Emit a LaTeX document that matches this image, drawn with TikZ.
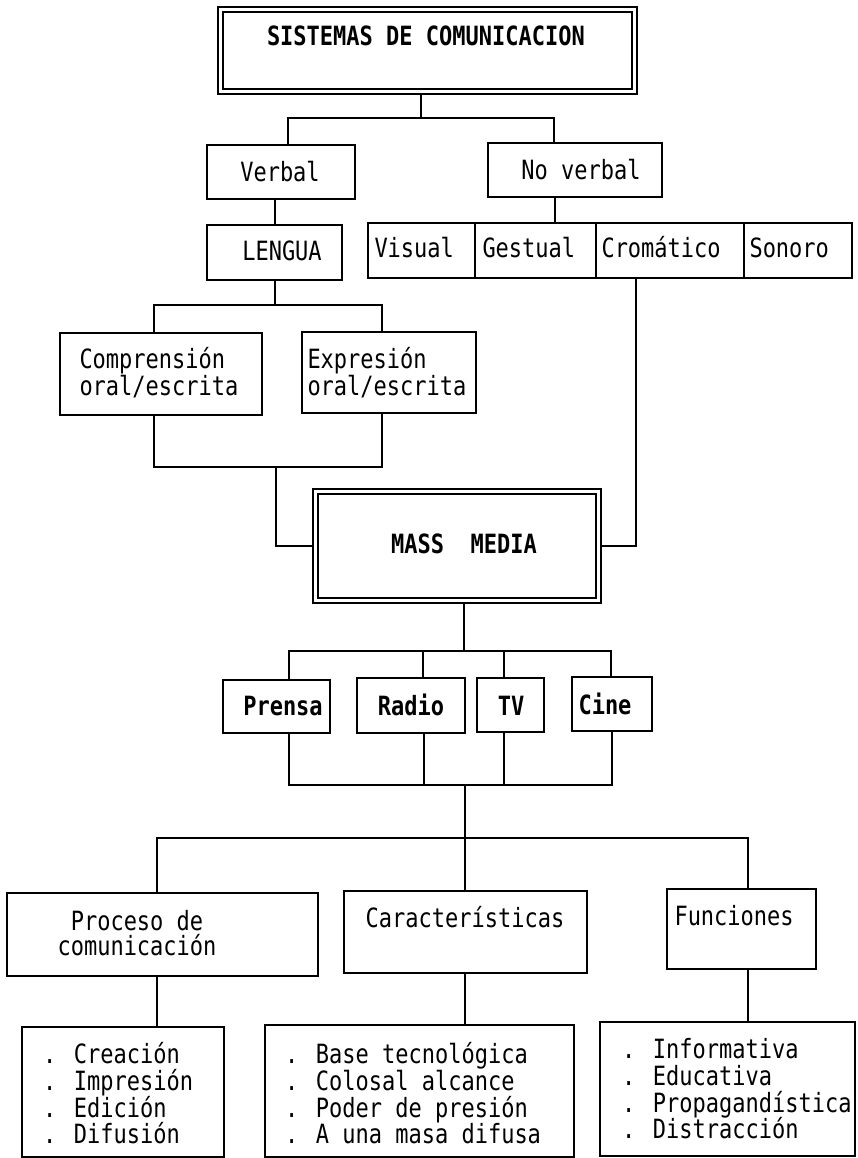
\documentclass[tikz,border=0pt]{standalone}
\usepackage{fontspec}
\newfontfamily\dgmono[FakeStretch=0.83]{DejaVu Sans Mono}
\newcommand\dgfs{\fontsize{26.5}{27}\selectfont}
\begin{document}
\begin{tikzpicture}[x=1pt,y=-1pt,line width=2pt,
  bx/.style 2 args={draw, minimum width=#1pt, minimum height=#2pt, inner sep=0pt, outer sep=1pt},
  dbx/.style 2 args={draw, double, double distance=3pt, minimum width=#1pt, minimum height=#2pt, inner sep=0pt, outer sep=3.5pt},
  tx/.style={font=\dgfs\dgmono, inner sep=0pt, anchor=base west},
  txc/.style={font=\dgfs\dgmono, inner sep=0pt, anchor=base},
  bd/.style={font=\dgfs\dgmono\bfseries}]
\fill[white] (0,0) rectangle (857,1158);
\useasboundingbox (0,0) rectangle (857,1158);

% ---- boxes ----
\node[dbx={414.5}{82}] (top) at (427.25,51) {};
\node[tx,bd] (top-t) at (266,46) {SISTEMAS DE COMUNICACION};

\node[bx={148}{54}] (verbal) at (281,172) {};
\node[txc] (verbal-t) at (280,182) {Verbal};
\node[bx={174}{54}] (nv) at (575,170) {};
\node[txc] (nv-t) at (581,180) {No verbal};

\node[bx={135}{55}] (lengua) at (274.5,252.5) {};
\node[txc] (lengua-t) at (282,260) {LENGUA};

\node[bx={107}{55}] (visual) at (421.5,250.5) {};
\node[bx={120.5}{55}] (gestual) at (535.25,250.5) {};
\node[bx={148.5}{55}] (crom) at (669.75,250.5) {};
\node[bx={108}{55}] (sonoro) at (798,250.5) {};
\node[tx] (visual-t) at (373.5,258) {Visual};
\node[tx] (gestual-t) at (481.5,258) {Gestual};
\node[tx] (crom-t) at (600.5,258) {Cromático};
\node[tx] (sonoro-t) at (748.5,258) {Sonoro};

\node[bx={202}{82}] (comp) at (161,374) {};
\node[tx] (comp-t1) at (78.5,368) {Comprensión};
\node[tx] (comp-t2) at (78.5,395) {oral/escrita};
\node[bx={174}{81}] (expr) at (389,372.5) {};
\node[tx] (expr-t1) at (306.5,368) {Expresión};
\node[tx] (expr-t2) at (306.5,395) {oral/escrita};

\node[dbx={282.5}{108.5}] (mm) at (456.75,545.75) {};
\node[txc,bd] (mm-t) at (464,553) {MASS\ \ MEDIA};

\node[bx={107}{53}] (prensa) at (276.5,706.5) {};
\node[txc,bd] (prensa-t) at (283,715) {Prensa};
\node[bx={108}{55}] (radio) at (411,705.5) {};
\node[txc,bd] (radio-t) at (411,715) {Radio};
\node[bx={67}{54}] (tv) at (510.5,705) {};
\node[txc,bd] (tv-t) at (511,715) {TV};
\node[bx={80}{54}] (cine) at (612,704) {};
\node[txc,bd] (cine-t) at (605,714) {Cine};

\node[bx={311}{83}] (proc) at (162.5,934.5) {};
\node[txc] (proc-t1) at (137,930) {Proceso de};
\node[txc] (proc-t2) at (137,955) {comunicación};
\node[bx={243}{82}] (car) at (465.5,932) {};
\node[txc] (car-t) at (465,927) {Características};
\node[bx={149}{80}] (func) at (741.5,929) {};
\node[tx] (func-t) at (673.5,925) {Funciones};

\node[bx={202}{130}] (l1) at (123,1092) {};
\node[tx] (l1-a) at (42,1063) {. Creación};
\node[tx] (l1-b) at (42,1090) {. Impresión};
\node[tx] (l1-c) at (42,1117) {. Edición};
\node[tx] (l1-d) at (42,1143) {. Difusión};
\node[bx={309}{132}] (l2) at (419.5,1091) {};
\node[tx] (l2-a) at (284,1063) {. Base tecnológica};
\node[tx] (l2-b) at (284,1090) {. Colosal alcance};
\node[tx] (l2-c) at (284,1117) {. Poder de presión};
\node[tx] (l2-d) at (284,1143) {. A una masa difusa};
\node[bx={255}{134}] (l3) at (727.5,1089) {};
\node[tx] (l3-a) at (621,1058) {. Informativa};
\node[tx] (l3-b) at (621,1085) {. Educativa};
\node[tx] (l3-c) at (621,1112) {. Propagandística};
\node[tx] (l3-d) at (621,1138) {. Distracción};

% ---- junction coordinates ----
\coordinate (j1) at (421,118);
\coordinate (j1l) at (287.5,118);
\coordinate (j1r) at (554,118);
\coordinate (jnv) at (555,200);
\coordinate (j2l) at (154,305);
\coordinate (j2r) at (382,305);
\coordinate (j3l) at (154,467);
\coordinate (j3r) at (382,467);
\coordinate (j3m) at (276,467);
\coordinate (jc) at (636,400);
\coordinate (j4) at (464,651);
\coordinate (j4l) at (289,651);
\coordinate (j4a) at (423,651);
\coordinate (j4b) at (504,651);
\coordinate (j4r) at (611,651);
\coordinate (j5l) at (289,785);
\coordinate (j5a) at (424,785);
\coordinate (j5b) at (504,785);
\coordinate (j5r) at (612,785);
\coordinate (j5m) at (465,785);
\coordinate (j6) at (465,838);
\coordinate (j6l) at (157,838);
\coordinate (j6r) at (748,838);

% ---- connectors ----
\draw (top.south -| j1) -- (j1);
\draw (verbal.north -| j1l) |- (j1r) -- (nv.north -| j1r);
\draw (verbal.south -| lengua.north) -- (lengua.north);
\draw (nv.south -| jnv) -- (gestual.north -| jnv);
\draw (lengua.south) -- (lengua.south |- j2l);
\draw (comp.north -| j2l) |- (j2r) -- (expr.north -| j2r);
\draw (comp.south -| j3l) -- (j3l) -- (j3r) -- (expr.south -| j3r);
\draw (j3m) |- (mm.west);
\draw (mm.east) -| (crom.south -| jc);
\draw (mm.south -| j4) -- (j4);
\draw (prensa.north -| j4l) |- (j4r) -- (cine.north -| j4r);
\draw (j4a) -- (radio.north -| j4a);
\draw (j4b) -- (tv.north -| j4b);
\draw (prensa.south -| j5l) -- (j5l) -- (j5r) -- (cine.south -| j5r);
\draw (radio.south -| j5a) -- (j5a);
\draw (tv.south -| j5b) -- (j5b);
\draw (j5m) -- (j6);
\draw (proc.north -| j6l) |- (j6r) -- (func.north -| j6r);
\draw (j6) -- (car.north -| j6);
\draw (proc.south -| j6l) -- (l1.north -| j6l);
\draw (car.south -| j6) -- (l2.north -| j6);
\draw (func.south -| j6r) -- (l3.north -| j6r);
\end{tikzpicture}
\end{document}
